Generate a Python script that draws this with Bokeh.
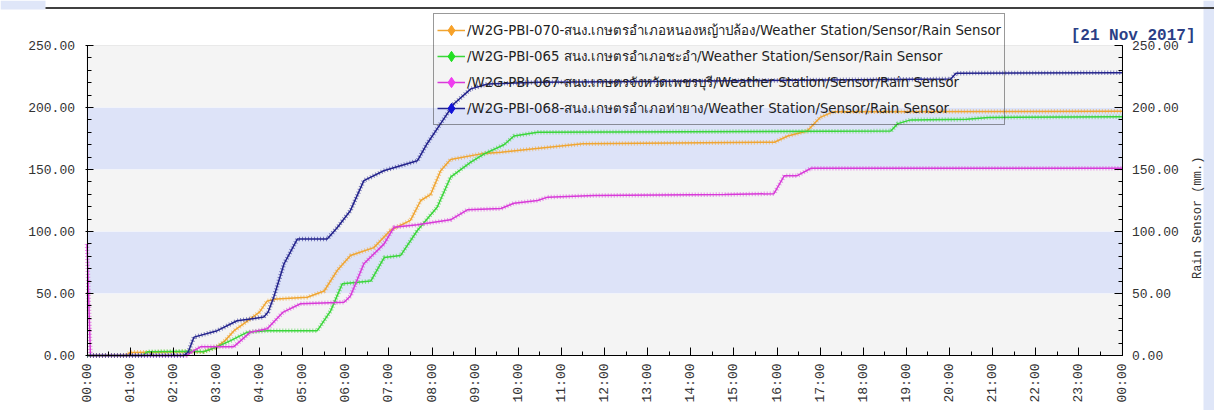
import math
from bokeh.plotting import figure
from bokeh.models import (ColumnDataSource, LinearAxis, Range1d, FixedTicker,
                          NumeralTickFormatter, BoxAnnotation, Legend, LegendItem, Label)
from bokeh.embed import file_html
from bokeh.resources import INLINE

# ---------------- data ----------------
hour_ticks = [0, 1, 2, 3, 4, 5, 6, 7, 8, 9, 10, 11, 12, 13, 14, 15, 16, 17, 18, 19, 20, 21, 22, 23, 24]
hour_labels = ["00:00", "01:00", "02:00", "03:00", "04:00", "05:00", "06:00", "07:00", "08:00",
               "09:00", "10:00", "11:00", "12:00", "13:00", "14:00", "15:00", "16:00", "17:00",
               "18:00", "19:00", "20:00", "21:00", "22:00", "23:00", "00:00"]
value_ticks = [0, 50, 100, 150, 200, 250]

names = [
    "/W2G-PBI-070-สนง.เกษตรอำเภอหนองหญ้าปล้อง/Weather Station/Sensor/Rain Sensor",
    "/W2G-PBI-065 สนง.เกษตรอำเภอชะอำ/Weather Station/Sensor/Rain Sensor",
    "/W2G-PBI-067-สนง.เกษตรจังหวัดเพชรบุรี/Weather Station/Sensor/Rain Sensor",
    "/W2G-PBI-068-สนง.เกษตรอำเภอท่ายาง/Weather Station/Sensor/Rain Sensor",
]

t070 = [0.0, 0.9, 1.0, 2.4, 2.7, 3.0, 3.2, 3.41, 3.79, 4.0, 4.18, 4.4, 5.11, 5.5, 5.8, 6.11, 6.65,
        7.04, 7.5, 7.74, 7.97, 8.2, 8.43, 9.2, 9.6, 10.37, 11.5, 15.94, 16.25, 16.7, 17.0, 17.3, 24.0]
v070 = [0.0, 0.0, 2.5, 3.0, 3.0, 6.7, 12.0, 20.0, 29.6, 35.0, 44.0, 45.5, 47.0, 52.0, 68.5, 80.6, 87.0,
        101.0, 109.0, 125.0, 130.0, 149.0, 158.0, 163.0, 164.0, 166.7, 170.7, 172.0, 177.0, 181.0, 192.0, 196.5, 197.0]

t065 = [0.0, 1.3, 1.4, 2.5, 2.7, 3.0, 3.33, 3.72, 4.18, 5.34, 5.65, 5.92, 6.58, 6.89, 7.27, 7.66, 8.12,
        8.43, 8.9, 9.21, 9.67, 9.9, 10.45, 18.64, 18.8, 19.1, 20.4, 20.9, 24.0]
v065 = [0.0, 0.0, 3.0, 3.5, 3.0, 6.7, 12.0, 18.8, 20.0, 20.0, 36.0, 57.8, 60.0, 79.0, 80.6, 100.8, 119.6,
        143.8, 156.0, 162.6, 170.0, 177.0, 180.0, 181.0, 187.0, 190.0, 190.5, 192.0, 192.5]

t067 = [0.0, 0.08, 2.3, 2.48, 2.63, 3.4, 3.79, 4.18, 4.55, 4.95, 5.96, 6.11, 6.42, 6.89, 7.12, 7.66,
        8.43, 8.82, 9.6, 9.9, 10.45, 10.68, 11.76, 14.78, 15.93, 16.17, 16.47, 16.79, 24.0]
v067 = [90.0, 0.0, 0.0, 4.0, 7.0, 7.0, 18.8, 21.5, 35.0, 41.7, 43.0, 48.0, 74.0, 90.0, 103.5, 105.4,
        109.4, 117.5, 118.5, 122.8, 125.0, 127.7, 129.0, 129.8, 130.5, 145.0, 145.0, 151.0, 151.0]

t068 = [0.0, 2.25, 2.35, 2.48, 3.02, 3.48, 4.1, 4.2, 4.33, 4.57, 4.88, 5.57, 5.8, 6.11, 6.42, 6.88,
        7.66, 7.89, 8.2, 8.51, 8.9, 9.29, 10.45, 13.0, 20.03, 20.15, 24.0]
v068 = [0.0, 0.0, 3.0, 14.8, 20.0, 28.0, 31.0, 35.0, 47.0, 74.0, 94.0, 94.0, 103.0, 117.0, 141.0, 149.0,
        157.0, 171.0, 187.0, 203.0, 215.0, 219.0, 220.4, 221.0, 223.0, 227.7, 228.0]

date_text = "[21 Nov 2017]"
axis_title = "Rain Sensor (mm.)"

# ---------------- styling ----------------
line_colors = ["#f0a532", "#3ad63a", "#d83ad8", "#23238c"]
legend_colors = ["#f7a128", "#22e022", "#f03cf0", "#1212d8"]
MONO = "Liberation Mono"
X_MAX, Y_MAX = 24, 250
W, H = 1214, 410
# the frame covers the whole canvas; axes are pinned at fixed data locations
PX_PER_H, PX_PER_V = 43.125, 1.24
X0_PX, Y0_PX = 86.5, 355.0
xr = Range1d(-X0_PX / PX_PER_H, (W - X0_PX) / PX_PER_H)
yr = Range1d(-(H - Y0_PX) / PX_PER_V, Y0_PX / PX_PER_V)

p = figure(width=W, height=H, x_range=xr, y_range=yr,
           output_backend="svg", toolbar_location=None,
           min_border_left=0, min_border_right=0, min_border_top=0, min_border_bottom=0,
           background_fill_color="white", border_fill_color="white")
p.outline_line_color = None
p.grid.visible = False

# page decoration seen at the edges of the reference screenshot
p.add_layout(BoxAnnotation(left=(1203 - X0_PX) / PX_PER_H, fill_color="#dfe6f8", fill_alpha=1.0,
                           line_alpha=0, level="underlay"))
p.add_layout(BoxAnnotation(right=(45 - X0_PX) / PX_PER_H, bottom=(Y0_PX - 9) / PX_PER_V,
                           fill_color="#dfe6f8", fill_alpha=1.0, line_alpha=0, level="underlay"))
p.add_layout(BoxAnnotation(left=(45 - X0_PX) / PX_PER_H, bottom=(Y0_PX - 8.5) / PX_PER_V,
                           top=(Y0_PX - 6.5) / PX_PER_V, fill_color="#404040", fill_alpha=1.0,
                           line_alpha=0, level="underlay"))

# background bands
for lo, hi in [(0, 50), (100, 150), (200, 250)]:
    p.add_layout(BoxAnnotation(left=0, right=X_MAX, bottom=lo, top=hi, fill_color="#f4f4f4",
                               fill_alpha=1.0, line_alpha=0, level="underlay"))
for lo, hi in [(50, 100), (150, 200)]:
    p.add_layout(BoxAnnotation(left=0, right=X_MAX, bottom=lo, top=hi, fill_color="#dde3f8",
                               fill_alpha=1.0, line_color="white", line_width=1, level="underlay"))
p.add_layout(BoxAnnotation(left=0, right=X_MAX, bottom=0, top=Y_MAX, fill_alpha=0,
                           line_color="#c4c4c4", line_width=1, level="underlay"))

# axes
yt = FixedTicker(ticks=value_ticks, minor_ticks=list(range(0, 251, 10)))
xt = FixedTicker(ticks=hour_ticks, minor_ticks=[h + 0.5 for h in range(24)])

def style_axis(ax):
    ax.axis_line_color = "black"
    ax.major_tick_line_color = "black"
    ax.minor_tick_line_color = "black"
    ax.major_label_text_font = MONO
    ax.major_label_text_font_size = "13px"
    ax.major_label_text_color = "#333333"

p.yaxis.ticker = yt
p.yaxis.formatter = NumeralTickFormatter(format="0.00")
p.yaxis.bounds = (0, Y_MAX)
p.yaxis.fixed_location = 0
style_axis(p.yaxis[0])
p.yaxis.major_tick_in = 6
p.yaxis.major_tick_out = 2
p.yaxis.minor_tick_in = 4
p.yaxis.minor_tick_out = 0
p.yaxis.major_label_standoff = 10

ry = LinearAxis(ticker=yt, formatter=NumeralTickFormatter(format="0.00"), fixed_location=X_MAX,
                bounds=(0, Y_MAX))
style_axis(ry)
ry.major_tick_in = 8
ry.major_tick_out = 0
ry.minor_tick_in = 4
ry.minor_tick_out = 0
ry.major_label_standoff = 10
p.add_layout(ry, "right")

p.xaxis.ticker = xt
p.xaxis.bounds = (0, X_MAX)
p.xaxis.fixed_location = 0
p.xaxis.major_label_overrides = {h: lab for h, lab in zip(hour_ticks, hour_labels)}
style_axis(p.xaxis[0])
p.xaxis.major_label_orientation = math.pi / 2
p.xaxis.major_tick_in = 8
p.xaxis.major_tick_out = 0
p.xaxis.minor_tick_in = 4
p.xaxis.minor_tick_out = 0
p.xaxis.major_label_standoff = 8

# series
series = [(t070, v070), (t065, v065), (t067, v067), (t068, v068)]
items = []
for (t, v), name, lc, mc in zip(series, names, line_colors, legend_colors):
    src = ColumnDataSource(dict(x=t, y=v))
    r = p.line("x", "y", source=src, line_color=lc, line_width=1.5)
    p.line("x", "y", source=src, line_color=lc, line_width=4.5, line_dash="1 2", line_alpha=0.55)
    # legend-only diamond (no drawable position)
    d = p.scatter(x=[float("nan")], y=[float("nan")], marker="diamond", size=15,
                  fill_color=mc, line_color=mc)
    items.append(LegendItem(label=name, renderers=[r, d]))

legend = Legend(items=items, location=(433, 285), orientation="vertical",
                border_line_color="#333333", border_line_width=1, background_fill_alpha=0.0,
                label_text_font="DejaVu Sans", label_text_font_size="13.3px", label_text_color="#222222",
                padding=3, spacing=0, margin=0, glyph_width=28, glyph_height=26, label_height=26,
                label_standoff=2)
p.add_layout(legend, "center")

p.add_layout(Label(x=X_MAX, y=Y_MAX, x_offset=73.5, y_offset=10, text=date_text, text_align="right",
                   text_baseline="alphabetic", text_font=MONO, text_font_size="16px",
                   text_font_style="bold", text_color="#2b3f86"))
p.add_layout(Label(x=X_MAX, y=111, x_offset=75.5, angle=math.pi / 2, text=axis_title,
                   text_align="center", text_baseline="middle", text_font=MONO,
                   text_font_size="12px", text_color="#333333"))

open("out.html", "w").write(file_html(p, INLINE))
